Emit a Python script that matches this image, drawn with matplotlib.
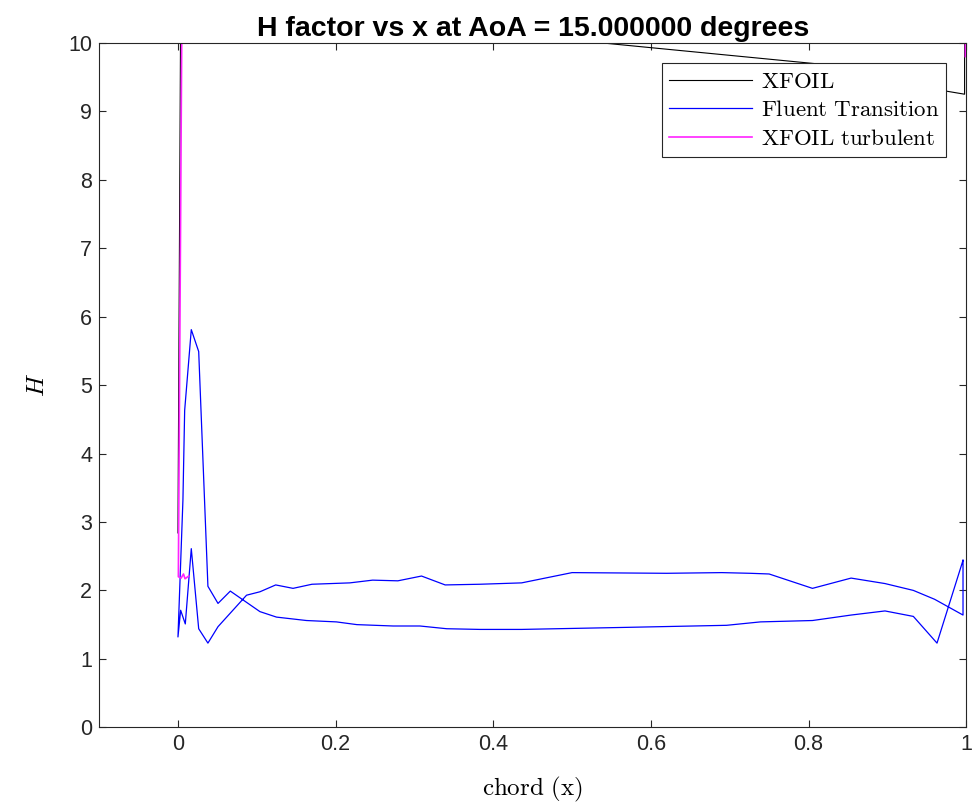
import numpy as np
import matplotlib
matplotlib.use('Agg')
import matplotlib.pyplot as plt
from matplotlib.ticker import FuncFormatter

plt.rcParams['font.family'] = ['Liberation Sans', 'DejaVu Sans']
plt.rcParams['mathtext.fontset'] = 'cm'

# XFOIL laminar H (most of it far above the axis limit)
xfoil_x = [0.0, 0.005, 0.05, 0.2, 0.35, 0.85, 0.967, 0.998, 0.998]
xfoil_h = [2.84, 14.0, 16.0, 13.0, 10.21, 9.65, 9.31, 9.25, 12.0]

# Fluent transition model: from trailing edge along one side, round the LE, back
fluent_x = [0.996, 0.963, 0.933, 0.897, 0.854, 0.805, 0.739, 0.696, 0.569, 0.436,
            0.383, 0.341, 0.307, 0.273, 0.227, 0.201, 0.163, 0.125, 0.104, 0.0664,
            0.0508, 0.038, 0.0263, 0.0169, 0.0085, 0.0063, 0.0,
            0.0034, 0.0093, 0.0169, 0.0263, 0.038, 0.0508, 0.087, 0.104, 0.124,
            0.146, 0.170, 0.218, 0.247, 0.279, 0.309, 0.339, 0.383, 0.436, 0.500,
            0.62, 0.69, 0.726, 0.750, 0.805, 0.854, 0.897, 0.933, 0.960, 0.996, 0.996]
fluent_h = [2.44, 1.23, 1.62, 1.70, 1.64, 1.56, 1.54, 1.49, 1.46, 1.43,
            1.43, 1.44, 1.48, 1.48, 1.50, 1.54, 1.56, 1.61, 1.69, 1.99,
            1.81, 2.06, 5.49, 5.81, 4.63, 3.32, 1.32,
            1.71, 1.51, 2.61, 1.44, 1.23, 1.47, 1.93, 1.98, 2.08,
            2.03, 2.09, 2.11, 2.15, 2.14, 2.21, 2.08, 2.09, 2.11, 2.26,
            2.25, 2.26, 2.25, 2.24, 2.03, 2.18, 2.10, 2.00, 1.87, 1.64, 2.44]

# XFOIL fully turbulent
xturb_x = [0.999, 0.999, 0.5, 0.005, 0.0005, 0.004, 0.007, 0.009, 0.0136]
xturb_h = [9.8, 12.0, 14.0, 10.5, 2.20, 2.18, 2.24, 2.17, 2.21]

fig = plt.figure(figsize=(9.72, 8.09), dpi=100)
ax = fig.add_axes([0.102, 0.101, 0.892, 0.846])

ax.plot(xfoil_x, xfoil_h, c='k', lw=0.8, label=r'$\mathrm{XFOIL}$')
ax.plot(fluent_x, fluent_h, c='#0000ff', lw=0.9, label=r'$\mathrm{Fluent\ Transition}$')
ax.plot(xturb_x, xturb_h, c='#ff22ff', lw=1.2, label=r'$\mathrm{XFOIL\ turbulent}$')

ax.set_xlim(-0.1, 1)
ax.set_ylim(0, 10)
ax.set_xticks([0, 0.2, 0.4, 0.6, 0.8, 1])
ax.set_yticks(range(0, 11))
ax.xaxis.set_major_formatter(FuncFormatter(lambda v, p: '%g' % v))
ax.tick_params(direction='in', top=True, right=True, labelsize=15.5,
               colors='#262626', length=5, width=0.8, pad=5)
for s in ax.spines.values():
    s.set_color('#262626')
    s.set_linewidth(0.8)

ax.set_title('H factor vs x at AoA = 15.000000 degrees', fontsize=20.5,
             fontweight='bold', pad=5)
ax.set_xlabel(r'$\mathrm{chord\ (x)}$', fontsize=18, labelpad=14)
ax.set_ylabel(r'$H$', fontsize=18, labelpad=14)

leg = ax.legend(loc='upper right', bbox_to_anchor=(0.977, 0.971), borderaxespad=0,
                fontsize=16.5, handlelength=3.6, fancybox=False, framealpha=1,
                edgecolor='#262626', borderpad=0.3, labelspacing=0.25, handletextpad=0.4)
leg.get_frame().set_linewidth(0.8)

fig.savefig('out.png', dpi=100)
